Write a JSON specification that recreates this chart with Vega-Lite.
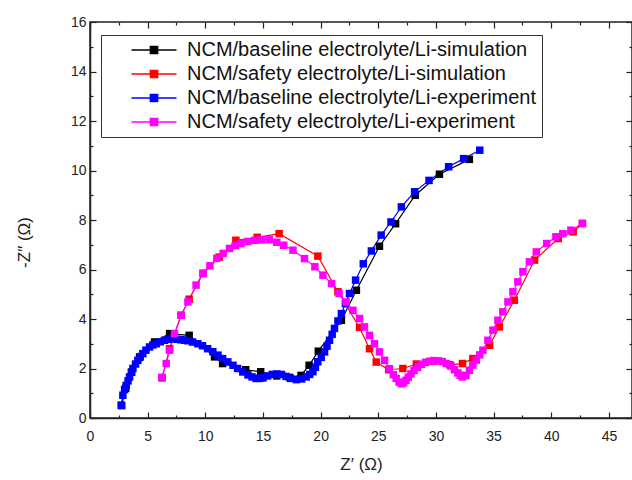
{
  "$schema": "https://vega.github.io/schema/vega-lite/v6.json",
  "width": 542,
  "height": 396,
  "autosize": "none",
  "padding": {"left": 90, "top": 22, "right": 0, "bottom": 62},
  "background": "white",
  "config": {
    "font": "Liberation Sans",
    "view": {"stroke": "#222", "strokeWidth": 1.5},
    "axis": {"domainColor": "#222", "domainWidth": 1.5, "tickColor": "#222", "tickWidth": 1.2, "labelColor": "#222", "labelFont": "Liberation Sans", "labelFontSize": 14, "titleFont": "Liberation Sans", "titleFontSize": 17, "titleFontWeight": "normal", "titleColor": "#222", "grid": false}
  },
  "datasets": {
    "eis": [
      {"series": "NCM/baseline electrolyte/Li-simulation", "x": 2.75, "y": 0.5},
      {"series": "NCM/baseline electrolyte/Li-simulation", "x": 3.1, "y": 1.2},
      {"series": "NCM/baseline electrolyte/Li-simulation", "x": 3.6, "y": 1.85},
      {"series": "NCM/baseline electrolyte/Li-simulation", "x": 4.3, "y": 2.45},
      {"series": "NCM/baseline electrolyte/Li-simulation", "x": 5.6, "y": 3.07},
      {"series": "NCM/baseline electrolyte/Li-simulation", "x": 6.9, "y": 3.41},
      {"series": "NCM/baseline electrolyte/Li-simulation", "x": 8.6, "y": 3.34},
      {"series": "NCM/baseline electrolyte/Li-simulation", "x": 10.8, "y": 2.47},
      {"series": "NCM/baseline electrolyte/Li-simulation", "x": 11.5, "y": 2.2},
      {"series": "NCM/baseline electrolyte/Li-simulation", "x": 13.5, "y": 1.95},
      {"series": "NCM/baseline electrolyte/Li-simulation", "x": 14.8, "y": 1.87},
      {"series": "NCM/baseline electrolyte/Li-simulation", "x": 16.2, "y": 1.7},
      {"series": "NCM/baseline electrolyte/Li-simulation", "x": 17.3, "y": 1.64},
      {"series": "NCM/baseline electrolyte/Li-simulation", "x": 18.3, "y": 1.72},
      {"series": "NCM/baseline electrolyte/Li-simulation", "x": 19.0, "y": 2.13},
      {"series": "NCM/baseline electrolyte/Li-simulation", "x": 19.8, "y": 2.7},
      {"series": "NCM/baseline electrolyte/Li-simulation", "x": 21.8, "y": 3.95},
      {"series": "NCM/baseline electrolyte/Li-simulation", "x": 23.1, "y": 5.16},
      {"series": "NCM/baseline electrolyte/Li-simulation", "x": 25.1, "y": 6.94},
      {"series": "NCM/baseline electrolyte/Li-simulation", "x": 26.5, "y": 7.85},
      {"series": "NCM/baseline electrolyte/Li-simulation", "x": 28.2, "y": 9.0},
      {"series": "NCM/baseline electrolyte/Li-simulation", "x": 30.3, "y": 9.85},
      {"series": "NCM/baseline electrolyte/Li-simulation", "x": 32.9, "y": 10.45},
      {"series": "NCM/safety electrolyte/Li-simulation", "x": 6.25, "y": 1.62},
      {"series": "NCM/safety electrolyte/Li-simulation", "x": 6.9, "y": 2.8},
      {"series": "NCM/safety electrolyte/Li-simulation", "x": 7.9, "y": 4.15},
      {"series": "NCM/safety electrolyte/Li-simulation", "x": 8.6, "y": 4.8},
      {"series": "NCM/safety electrolyte/Li-simulation", "x": 9.8, "y": 5.84},
      {"series": "NCM/safety electrolyte/Li-simulation", "x": 11.2, "y": 6.5},
      {"series": "NCM/safety electrolyte/Li-simulation", "x": 12.65, "y": 7.18},
      {"series": "NCM/safety electrolyte/Li-simulation", "x": 14.5, "y": 7.3},
      {"series": "NCM/safety electrolyte/Li-simulation", "x": 16.4, "y": 7.45},
      {"series": "NCM/safety electrolyte/Li-simulation", "x": 19.76, "y": 6.54},
      {"series": "NCM/safety electrolyte/Li-simulation", "x": 21.5, "y": 5.1},
      {"series": "NCM/safety electrolyte/Li-simulation", "x": 23.37, "y": 3.66},
      {"series": "NCM/safety electrolyte/Li-simulation", "x": 24.24, "y": 2.8},
      {"series": "NCM/safety electrolyte/Li-simulation", "x": 24.82, "y": 2.26},
      {"series": "NCM/safety electrolyte/Li-simulation", "x": 25.9, "y": 1.95},
      {"series": "NCM/safety electrolyte/Li-simulation", "x": 27.13, "y": 2.0},
      {"series": "NCM/safety electrolyte/Li-simulation", "x": 28.3, "y": 2.18},
      {"series": "NCM/safety electrolyte/Li-simulation", "x": 29.8, "y": 2.3},
      {"series": "NCM/safety electrolyte/Li-simulation", "x": 31.2, "y": 2.15},
      {"series": "NCM/safety electrolyte/Li-simulation", "x": 32.3, "y": 2.2},
      {"series": "NCM/safety electrolyte/Li-simulation", "x": 33.2, "y": 2.4},
      {"series": "NCM/safety electrolyte/Li-simulation", "x": 34.65, "y": 2.94},
      {"series": "NCM/safety electrolyte/Li-simulation", "x": 35.5, "y": 3.68},
      {"series": "NCM/safety electrolyte/Li-simulation", "x": 36.8, "y": 4.76},
      {"series": "NCM/safety electrolyte/Li-simulation", "x": 38.55, "y": 6.38},
      {"series": "NCM/safety electrolyte/Li-simulation", "x": 40.6, "y": 7.25},
      {"series": "NCM/safety electrolyte/Li-simulation", "x": 41.9, "y": 7.52},
      {"series": "NCM/safety electrolyte/Li-simulation", "x": 42.7, "y": 7.86},
      {"series": "NCM/baseline electrolyte/Li-experiment", "x": 2.7, "y": 0.52},
      {"series": "NCM/baseline electrolyte/Li-experiment", "x": 2.85, "y": 0.92},
      {"series": "NCM/baseline electrolyte/Li-experiment", "x": 3.0, "y": 1.15},
      {"series": "NCM/baseline electrolyte/Li-experiment", "x": 3.14, "y": 1.32},
      {"series": "NCM/baseline electrolyte/Li-experiment", "x": 3.3, "y": 1.5},
      {"series": "NCM/baseline electrolyte/Li-experiment", "x": 3.43, "y": 1.66},
      {"series": "NCM/baseline electrolyte/Li-experiment", "x": 3.6, "y": 1.85},
      {"series": "NCM/baseline electrolyte/Li-experiment", "x": 3.72, "y": 2.0},
      {"series": "NCM/baseline electrolyte/Li-experiment", "x": 3.95, "y": 2.18},
      {"series": "NCM/baseline electrolyte/Li-experiment", "x": 4.15, "y": 2.33},
      {"series": "NCM/baseline electrolyte/Li-experiment", "x": 4.35, "y": 2.48},
      {"series": "NCM/baseline electrolyte/Li-experiment", "x": 4.58, "y": 2.6},
      {"series": "NCM/baseline electrolyte/Li-experiment", "x": 4.85, "y": 2.74},
      {"series": "NCM/baseline electrolyte/Li-experiment", "x": 5.16, "y": 2.87},
      {"series": "NCM/baseline electrolyte/Li-experiment", "x": 5.45, "y": 2.95},
      {"series": "NCM/baseline electrolyte/Li-experiment", "x": 5.74, "y": 3.0},
      {"series": "NCM/baseline electrolyte/Li-experiment", "x": 6.1, "y": 3.08},
      {"series": "NCM/baseline electrolyte/Li-experiment", "x": 6.46, "y": 3.14},
      {"series": "NCM/baseline electrolyte/Li-experiment", "x": 6.8, "y": 3.18},
      {"series": "NCM/baseline electrolyte/Li-experiment", "x": 7.18, "y": 3.2},
      {"series": "NCM/baseline electrolyte/Li-experiment", "x": 7.55, "y": 3.18},
      {"series": "NCM/baseline electrolyte/Li-experiment", "x": 7.9, "y": 3.16},
      {"series": "NCM/baseline electrolyte/Li-experiment", "x": 8.2, "y": 3.14},
      {"series": "NCM/baseline electrolyte/Li-experiment", "x": 8.49, "y": 3.12},
      {"series": "NCM/baseline electrolyte/Li-experiment", "x": 8.9, "y": 3.07},
      {"series": "NCM/baseline electrolyte/Li-experiment", "x": 9.35, "y": 3.0},
      {"series": "NCM/baseline electrolyte/Li-experiment", "x": 9.75, "y": 2.92},
      {"series": "NCM/baseline electrolyte/Li-experiment", "x": 10.2, "y": 2.8},
      {"series": "NCM/baseline electrolyte/Li-experiment", "x": 10.65, "y": 2.68},
      {"series": "NCM/baseline electrolyte/Li-experiment", "x": 11.1, "y": 2.54},
      {"series": "NCM/baseline electrolyte/Li-experiment", "x": 11.5, "y": 2.4},
      {"series": "NCM/baseline electrolyte/Li-experiment", "x": 11.95, "y": 2.27},
      {"series": "NCM/baseline electrolyte/Li-experiment", "x": 12.4, "y": 2.13},
      {"series": "NCM/baseline electrolyte/Li-experiment", "x": 12.8, "y": 2.0},
      {"series": "NCM/baseline electrolyte/Li-experiment", "x": 13.25, "y": 1.86},
      {"series": "NCM/baseline electrolyte/Li-experiment", "x": 13.7, "y": 1.74},
      {"series": "NCM/baseline electrolyte/Li-experiment", "x": 14.05, "y": 1.66},
      {"series": "NCM/baseline electrolyte/Li-experiment", "x": 14.4, "y": 1.6},
      {"series": "NCM/baseline electrolyte/Li-experiment", "x": 14.7, "y": 1.6},
      {"series": "NCM/baseline electrolyte/Li-experiment", "x": 15.0, "y": 1.62},
      {"series": "NCM/baseline electrolyte/Li-experiment", "x": 15.4, "y": 1.7},
      {"series": "NCM/baseline electrolyte/Li-experiment", "x": 15.8, "y": 1.76},
      {"series": "NCM/baseline electrolyte/Li-experiment", "x": 16.2, "y": 1.78},
      {"series": "NCM/baseline electrolyte/Li-experiment", "x": 16.6, "y": 1.76},
      {"series": "NCM/baseline electrolyte/Li-experiment", "x": 17.0, "y": 1.68},
      {"series": "NCM/baseline electrolyte/Li-experiment", "x": 17.4, "y": 1.6},
      {"series": "NCM/baseline electrolyte/Li-experiment", "x": 17.9, "y": 1.55},
      {"series": "NCM/baseline electrolyte/Li-experiment", "x": 18.35, "y": 1.58},
      {"series": "NCM/baseline electrolyte/Li-experiment", "x": 18.75, "y": 1.66},
      {"series": "NCM/baseline electrolyte/Li-experiment", "x": 19.05, "y": 1.76},
      {"series": "NCM/baseline electrolyte/Li-experiment", "x": 19.33, "y": 1.87},
      {"series": "NCM/baseline electrolyte/Li-experiment", "x": 19.55, "y": 2.05},
      {"series": "NCM/baseline electrolyte/Li-experiment", "x": 19.75, "y": 2.27},
      {"series": "NCM/baseline electrolyte/Li-experiment", "x": 20.05, "y": 2.45},
      {"series": "NCM/baseline electrolyte/Li-experiment", "x": 20.34, "y": 2.67},
      {"series": "NCM/baseline electrolyte/Li-experiment", "x": 20.55, "y": 2.9},
      {"series": "NCM/baseline electrolyte/Li-experiment", "x": 20.77, "y": 3.14},
      {"series": "NCM/baseline electrolyte/Li-experiment", "x": 21.0, "y": 3.38},
      {"series": "NCM/baseline electrolyte/Li-experiment", "x": 21.2, "y": 3.62},
      {"series": "NCM/baseline electrolyte/Li-experiment", "x": 21.5, "y": 3.92},
      {"series": "NCM/baseline electrolyte/Li-experiment", "x": 21.8, "y": 4.22},
      {"series": "NCM/baseline electrolyte/Li-experiment", "x": 22.15, "y": 4.62},
      {"series": "NCM/baseline electrolyte/Li-experiment", "x": 22.5, "y": 5.03},
      {"series": "NCM/baseline electrolyte/Li-experiment", "x": 23.03, "y": 5.57},
      {"series": "NCM/baseline electrolyte/Li-experiment", "x": 23.7, "y": 6.23},
      {"series": "NCM/baseline electrolyte/Li-experiment", "x": 24.4, "y": 6.75},
      {"series": "NCM/baseline electrolyte/Li-experiment", "x": 25.25, "y": 7.39},
      {"series": "NCM/baseline electrolyte/Li-experiment", "x": 26.1, "y": 7.92},
      {"series": "NCM/baseline electrolyte/Li-experiment", "x": 27.0, "y": 8.53},
      {"series": "NCM/baseline electrolyte/Li-experiment", "x": 28.15, "y": 9.14},
      {"series": "NCM/baseline electrolyte/Li-experiment", "x": 29.4, "y": 9.6},
      {"series": "NCM/baseline electrolyte/Li-experiment", "x": 31.1, "y": 10.15},
      {"series": "NCM/baseline electrolyte/Li-experiment", "x": 32.4, "y": 10.48},
      {"series": "NCM/baseline electrolyte/Li-experiment", "x": 33.8, "y": 10.82},
      {"series": "NCM/safety electrolyte/Li-experiment", "x": 6.23, "y": 1.64},
      {"series": "NCM/safety electrolyte/Li-experiment", "x": 6.61, "y": 2.2},
      {"series": "NCM/safety electrolyte/Li-experiment", "x": 6.9, "y": 2.74},
      {"series": "NCM/safety electrolyte/Li-experiment", "x": 7.33, "y": 3.41},
      {"series": "NCM/safety electrolyte/Li-experiment", "x": 7.9, "y": 4.15},
      {"series": "NCM/safety electrolyte/Li-experiment", "x": 8.49, "y": 4.69},
      {"series": "NCM/safety electrolyte/Li-experiment", "x": 9.2, "y": 5.37},
      {"series": "NCM/safety electrolyte/Li-experiment", "x": 9.8, "y": 5.85},
      {"series": "NCM/safety electrolyte/Li-experiment", "x": 10.4, "y": 6.15},
      {"series": "NCM/safety electrolyte/Li-experiment", "x": 11.0, "y": 6.45},
      {"series": "NCM/safety electrolyte/Li-experiment", "x": 11.55, "y": 6.65},
      {"series": "NCM/safety electrolyte/Li-experiment", "x": 12.1, "y": 6.85},
      {"series": "NCM/safety electrolyte/Li-experiment", "x": 12.6, "y": 6.97},
      {"series": "NCM/safety electrolyte/Li-experiment", "x": 13.1, "y": 7.05},
      {"series": "NCM/safety electrolyte/Li-experiment", "x": 13.7, "y": 7.13},
      {"series": "NCM/safety electrolyte/Li-experiment", "x": 14.3, "y": 7.18},
      {"series": "NCM/safety electrolyte/Li-experiment", "x": 14.9, "y": 7.2},
      {"series": "NCM/safety electrolyte/Li-experiment", "x": 15.55, "y": 7.21},
      {"series": "NCM/safety electrolyte/Li-experiment", "x": 16.2, "y": 7.1},
      {"series": "NCM/safety electrolyte/Li-experiment", "x": 16.8, "y": 6.98},
      {"series": "NCM/safety electrolyte/Li-experiment", "x": 17.6, "y": 6.78},
      {"series": "NCM/safety electrolyte/Li-experiment", "x": 18.6, "y": 6.44},
      {"series": "NCM/safety electrolyte/Li-experiment", "x": 19.5, "y": 6.11},
      {"series": "NCM/safety electrolyte/Li-experiment", "x": 20.2, "y": 5.77},
      {"series": "NCM/safety electrolyte/Li-experiment", "x": 20.95, "y": 5.43},
      {"series": "NCM/safety electrolyte/Li-experiment", "x": 21.6, "y": 5.03},
      {"series": "NCM/safety electrolyte/Li-experiment", "x": 22.2, "y": 4.69},
      {"series": "NCM/safety electrolyte/Li-experiment", "x": 22.8, "y": 4.35},
      {"series": "NCM/safety electrolyte/Li-experiment", "x": 23.37, "y": 4.02},
      {"series": "NCM/safety electrolyte/Li-experiment", "x": 23.8, "y": 3.68},
      {"series": "NCM/safety electrolyte/Li-experiment", "x": 24.24, "y": 3.34},
      {"series": "NCM/safety electrolyte/Li-experiment", "x": 24.67, "y": 3.0},
      {"series": "NCM/safety electrolyte/Li-experiment", "x": 25.1, "y": 2.67},
      {"series": "NCM/safety electrolyte/Li-experiment", "x": 25.54, "y": 2.33},
      {"series": "NCM/safety electrolyte/Li-experiment", "x": 25.97, "y": 1.99},
      {"series": "NCM/safety electrolyte/Li-experiment", "x": 26.3, "y": 1.75},
      {"series": "NCM/safety electrolyte/Li-experiment", "x": 26.55, "y": 1.6},
      {"series": "NCM/safety electrolyte/Li-experiment", "x": 26.8, "y": 1.45},
      {"series": "NCM/safety electrolyte/Li-experiment", "x": 27.0, "y": 1.38},
      {"series": "NCM/safety electrolyte/Li-experiment", "x": 27.2, "y": 1.42},
      {"series": "NCM/safety electrolyte/Li-experiment", "x": 27.4, "y": 1.52},
      {"series": "NCM/safety electrolyte/Li-experiment", "x": 27.6, "y": 1.65},
      {"series": "NCM/safety electrolyte/Li-experiment", "x": 27.83, "y": 1.78},
      {"series": "NCM/safety electrolyte/Li-experiment", "x": 28.1, "y": 1.92},
      {"series": "NCM/safety electrolyte/Li-experiment", "x": 28.4, "y": 2.05},
      {"series": "NCM/safety electrolyte/Li-experiment", "x": 28.75, "y": 2.17},
      {"series": "NCM/safety electrolyte/Li-experiment", "x": 29.1, "y": 2.25},
      {"series": "NCM/safety electrolyte/Li-experiment", "x": 29.45, "y": 2.29},
      {"series": "NCM/safety electrolyte/Li-experiment", "x": 29.8, "y": 2.32},
      {"series": "NCM/safety electrolyte/Li-experiment", "x": 30.2, "y": 2.31},
      {"series": "NCM/safety electrolyte/Li-experiment", "x": 30.55, "y": 2.28},
      {"series": "NCM/safety electrolyte/Li-experiment", "x": 30.9, "y": 2.2},
      {"series": "NCM/safety electrolyte/Li-experiment", "x": 31.3, "y": 2.1},
      {"series": "NCM/safety electrolyte/Li-experiment", "x": 31.6, "y": 1.95},
      {"series": "NCM/safety electrolyte/Li-experiment", "x": 31.9, "y": 1.82},
      {"series": "NCM/safety electrolyte/Li-experiment", "x": 32.1, "y": 1.72},
      {"series": "NCM/safety electrolyte/Li-experiment", "x": 32.3, "y": 1.66},
      {"series": "NCM/safety electrolyte/Li-experiment", "x": 32.6, "y": 1.72},
      {"series": "NCM/safety electrolyte/Li-experiment", "x": 32.9, "y": 1.93},
      {"series": "NCM/safety electrolyte/Li-experiment", "x": 33.2, "y": 2.14},
      {"series": "NCM/safety electrolyte/Li-experiment", "x": 33.5, "y": 2.34},
      {"series": "NCM/safety electrolyte/Li-experiment", "x": 33.8, "y": 2.55},
      {"series": "NCM/safety electrolyte/Li-experiment", "x": 34.07, "y": 2.74},
      {"series": "NCM/safety electrolyte/Li-experiment", "x": 34.5, "y": 3.14},
      {"series": "NCM/safety electrolyte/Li-experiment", "x": 34.94, "y": 3.55},
      {"series": "NCM/safety electrolyte/Li-experiment", "x": 35.37, "y": 3.95},
      {"series": "NCM/safety electrolyte/Li-experiment", "x": 35.8, "y": 4.29},
      {"series": "NCM/safety electrolyte/Li-experiment", "x": 36.24, "y": 4.69},
      {"series": "NCM/safety electrolyte/Li-experiment", "x": 36.67, "y": 5.1},
      {"series": "NCM/safety electrolyte/Li-experiment", "x": 37.1, "y": 5.5},
      {"series": "NCM/safety electrolyte/Li-experiment", "x": 37.54, "y": 5.91},
      {"series": "NCM/safety electrolyte/Li-experiment", "x": 38.1, "y": 6.31},
      {"series": "NCM/safety electrolyte/Li-experiment", "x": 38.7, "y": 6.71},
      {"series": "NCM/safety electrolyte/Li-experiment", "x": 39.6, "y": 7.05},
      {"series": "NCM/safety electrolyte/Li-experiment", "x": 40.4, "y": 7.32},
      {"series": "NCM/safety electrolyte/Li-experiment", "x": 41.0, "y": 7.45},
      {"series": "NCM/safety electrolyte/Li-experiment", "x": 41.7, "y": 7.59},
      {"series": "NCM/safety electrolyte/Li-experiment", "x": 42.7, "y": 7.86}
    ]
  },
  "data": {"name": "eis"},
  "resolve": {"axis": {"x": "independent", "y": "independent"}},
  "layer": [
    {
      "mark": {"type": "line", "strokeWidth": 1.2},
      "encoding": {
        "x": {"field": "x", "type": "quantitative", "scale": {"domain": [0, 47], "nice": false, "zero": false},
          "axis": {"orient": "bottom", "title": "Z′ (Ω)", "values": [0, 2.5, 5, 7.5, 10, 12.5, 15, 17.5, 20, 22.5, 25, 27.5, 30, 32.5, 35, 37.5, 40, 42.5, 45],
            "labelExpr": "datum.value % 5 === 0 ? datum.label : ''",
            "tickSize": {"condition": {"test": "datum.value % 5 === 0", "value": -6}, "value": -3},
            "labelPadding": 17, "titlePadding": 10, "labelFlush": false, "labelOverlap": false}},
        "y": {"field": "y", "type": "quantitative", "scale": {"domain": [0, 16], "nice": false, "zero": false},
          "axis": {"orient": "left", "title": "-Z″ (Ω)", "values": [0, 1, 2, 3, 4, 5, 6, 7, 8, 9, 10, 11, 12, 13, 14, 15, 16],
            "labelExpr": "datum.value % 2 === 0 ? datum.label : ''",
            "tickSize": {"condition": {"test": "datum.value % 2 === 0", "value": -6}, "value": -3},
            "labelPadding": 10, "titleX": -57, "titleY": 220, "labelFlush": false, "labelOverlap": false}},
        "color": {"field": "series", "type": "nominal",
          "scale": {"domain": ["NCM/baseline electrolyte/Li-simulation", "NCM/safety electrolyte/Li-simulation", "NCM/baseline electrolyte/Li-experiment", "NCM/safety electrolyte/Li-experiment"], "range": ["#000000", "#ff0000", "#0000ff", "#ff00ff"]},
          "legend": {"orient": "none", "legendX": 11, "legendY": 13, "title": null, "strokeColor": "#333", "fillColor": "white", "padding": 5,
            "labelFontSize": 20, "labelFont": "Liberation Sans", "labelColor": "#111", "labelLimit": 0,
            "symbolType": "M-3.75,0H3.75M-0.6,-0.6H0.6V0.6H-0.6ZM-0.6,-0.3H0.6M-0.6,0H0.6M-0.6,0.3H0.6",
            "symbolSize": 144, "symbolStrokeWidth": 1.5, "rowPadding": 4, "symbolOffset": 38, "labelOffset": 23}}
      }
    },
    {
      "mark": {"type": "point", "shape": "square", "filled": true, "size": 56, "opacity": 1},
      "encoding": {
        "x": {"field": "x", "type": "quantitative", "axis": null},
        "y": {"field": "y", "type": "quantitative", "axis": null},
        "fill": {"field": "series", "type": "nominal",
          "scale": {"domain": ["NCM/baseline electrolyte/Li-simulation", "NCM/safety electrolyte/Li-simulation", "NCM/baseline electrolyte/Li-experiment", "NCM/safety electrolyte/Li-experiment"], "range": ["#000000", "#ff0000", "#0000ff", "#ff00ff"]},
          "legend": null}
      }
    },
    {
      "mark": {"type": "point", "opacity": 0},
      "encoding": {
        "x": {"field": "x", "type": "quantitative",
          "axis": {"orient": "top", "title": null, "labels": false, "domain": false, "values": [0, 2.5, 5, 7.5, 10, 12.5, 15, 17.5, 20, 22.5, 25, 27.5, 30, 32.5, 35, 37.5, 40, 42.5, 45],
            "tickSize": {"condition": {"test": "datum.value % 5 === 0", "value": -6}, "value": -3}}},
        "y": {"field": "y", "type": "quantitative",
          "axis": {"orient": "right", "title": null, "labels": false, "domain": false, "values": [0, 1, 2, 3, 4, 5, 6, 7, 8, 9, 10, 11, 12, 13, 14, 15, 16],
            "tickSize": {"condition": {"test": "datum.value % 2 === 0", "value": -6}, "value": -3}}}
      }
    }
  ]
}
